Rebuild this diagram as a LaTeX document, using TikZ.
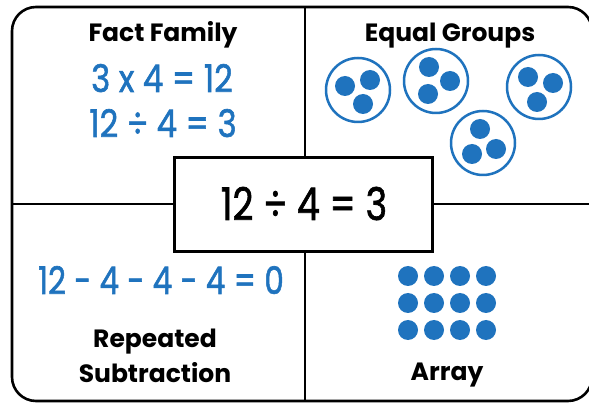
\documentclass[tikz,border=0pt]{standalone}
\usepackage{fontspec}
\setmainfont{Poppins}
\newfontfamily\mathhand[FakeBold=1.6]{Poppins}
\definecolor{mblue}{HTML}{1F73BE}
\tikzset{
  heading/.style={font=\bfseries\fontsize{25}{28}\selectfont, inner sep=0pt, anchor=base},
  bluemath/.style={text=mblue, font=\mathhand\fontsize{38}{40}\selectfont, inner sep=0pt, anchor=base, xscale=0.85},
  dot/.style={circle, fill=mblue, minimum size=20pt, inner sep=0pt},
  group/.style={circle, draw=mblue, line width=2.5pt, minimum size=64pt, inner sep=0pt},
  frame/.style={line width=2.6pt, rounded corners=24pt},
  divider/.style={line width=2.2pt},
  centerbox/.style={draw, line width=3pt, fill=white, minimum width=258pt, minimum height=94pt, inner sep=0pt},
  centertext/.style={font=\mathhand\fontsize{45}{48}\selectfont, inner sep=0pt, anchor=base, xscale=0.81}
}
\begin{document}
\begin{tikzpicture}[x=1pt,y=-1pt]
\useasboundingbox (0,0) rectangle (589,403);
\fill[white] (0,0) rectangle (589,403);
% frame and dividers
\coordinate (tl) at (12,7);
\coordinate (br) at (592,401);
\draw[frame] (tl) rectangle (br);
\coordinate (vt) at (305,7);
\coordinate (vb) at (305,401);
\coordinate (hl) at (12,204);
\coordinate (hr) at (592,204);
\draw[divider] (vt) -- (vb);
\draw[divider] (hl) -- (hr);
% center box
\node[centerbox] (c) at (303.5,204.5) {};
\node[centertext] (ct) at (304,220) {12 ÷ 4 = 3};
% Fact family
\node[heading] (ff) at (163,42) {Fact Family};
\node[bluemath] (e1) at (162,92) {3 x 4 = 12};
\node[bluemath] (e2) at (163,137) {12 ÷ 4 = 3};
% Equal groups
\node[heading] (eg) at (450,42) {Equal Groups};
\node[group] (g1) at (358,90) {};
\node[dot] (d11) at (345,86) {};
\node[dot] (d12) at (370,80) {};
\node[dot] (d13) at (363,104) {};
\node[group] (g2) at (436,81) {};
\node[dot] (d21) at (429,67) {};
\node[dot] (d22) at (450,81) {};
\node[dot] (d23) at (428,94) {};
\node[group] (g3) at (539,87) {};
\node[dot] (d31) at (528,77) {};
\node[dot] (d32) at (553,83) {};
\node[dot] (d33) at (537,102) {};
\node[group] (g4) at (483,143) {};
\node[dot] (d41) at (480,129) {};
\node[dot] (d42) at (472,154) {};
\node[dot] (d43) at (496,149) {};
% Repeated subtraction
\node[bluemath, xscale=0.96] (e3) at (161,294) {12 - 4 - 4 - 4 = 0};
\node[heading] (rs1) at (155,348) {Repeated};
\node[heading] (rs2) at (155,382) {Subtraction};
% Array
\foreach \i/\x in {1/408,2/434,3/460,4/486}{
  \foreach \j/\y in {1/276,2/303,3/330}{
    \node[dot] (a\i\j) at (\x,\y) {};
  }
}
\node[heading] (ar) at (447,380) {Array};
\end{tikzpicture}
\end{document}
